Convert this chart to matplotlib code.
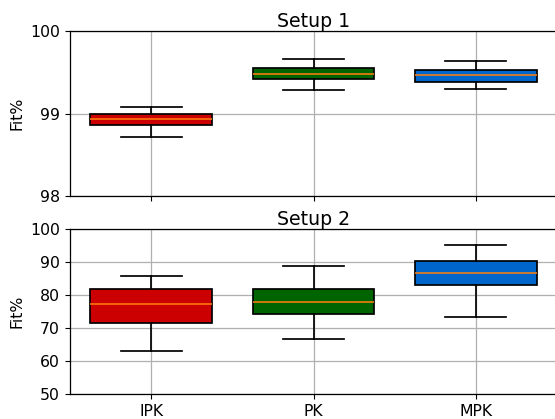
import matplotlib.pyplot as plt

# Etiquetas y colores
labels = ['IPK', 'PK', 'MPK']
colors = ['#cc0000', '#006400', '#0066cc']

# Setup 1: (whislo, q1, med, q3, whishi)
s1_whislo = [98.715, 99.29, 99.293]
s1_q1 = [98.865, 99.423, 99.387]
s1_med = [98.933, 99.483, 99.47]
s1_q3 = [99.0, 99.556, 99.524]
s1_whishi = [99.079, 99.657, 99.64]

# Setup 2
s2_whislo = [62.9, 66.7, 73.4]
s2_q1 = [71.6, 74.15, 83.1]
s2_med = [77.2, 77.8, 86.6]
s2_q3 = [81.7, 81.7, 90.4]
s2_whishi = [85.67, 88.9, 95.05]


def make_stats(lo, q1, med, q3, hi):
    return [dict(label=l, whislo=a, q1=b, med=c, q3=d, whishi=e, fliers=[])
            for l, a, b, c, d, e in zip(labels, lo, q1, med, q3, hi)]


k = 1.13  # escala aparente de la figura original
plt.rcParams['font.size'] = 10 * k
plt.rcParams['xtick.major.size'] = 3.5 * k
plt.rcParams['ytick.major.size'] = 3.5 * k
plt.rcParams['axes.linewidth'] = 0.8 * k

fig = plt.figure(figsize=(5.55, 4.19), dpi=100)
W, H = 555, 419
ax1 = fig.add_axes([70 / W, 1 - 196 / H, 487 / W, 165 / H])
ax2 = fig.add_axes([70 / W, 1 - 394 / H, 487 / W, 165 / H])

stats1 = make_stats(s1_whislo, s1_q1, s1_med, s1_q3, s1_whishi)
stats2 = make_stats(s2_whislo, s2_q1, s2_med, s2_q3, s2_whishi)

for ax, st, title in [(ax1, stats1, 'Setup 1'), (ax2, stats2, 'Setup 2')]:
    bp = ax.bxp(st, widths=0.75, patch_artist=True, showfliers=False,
                medianprops=dict(color='#ff7f0e', linewidth=1 * k),
                boxprops=dict(linewidth=1.1 * k),
                whiskerprops=dict(linewidth=1.1 * k),
                capprops=dict(linewidth=1.1 * k))
    for patch, c in zip(bp['boxes'], colors):
        patch.set_facecolor(c)
    ax.set_title(title, fontsize=12 * k, pad=3)
    ax.set_ylabel('Fit%')
    ax.grid(True, color='#b0b0b0', linewidth=0.8 * k)
    ax.set_axisbelow(True)
    ax.set_xlim(0.5, 3.5)

ax1.set_ylim(98, 100)
ax1.set_yticks([98, 99, 100])
ax1.set_xticklabels([])
ax2.set_ylim(50, 100)
ax2.set_yticks([50, 60, 70, 80, 90, 100])

plt.savefig('out.png', dpi=100)
